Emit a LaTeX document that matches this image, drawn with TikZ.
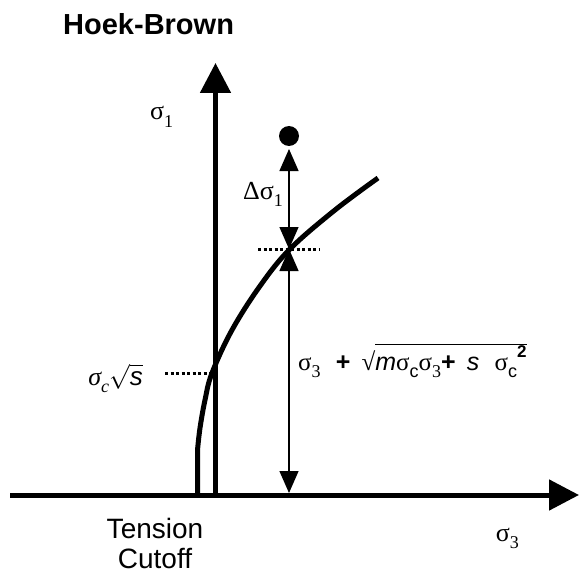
\documentclass[tikz,border=0pt]{standalone}
\usepackage{fontspec}
\setmainfont{Liberation Sans}
\newfontfamily\tms{Liberation Serif}
\usetikzlibrary{arrows.meta}
\newcommand{\lsub}[1]{\raisebox{-0.3em}{\fontsize{18}{18}\selectfont #1}}
\newcommand{\lsup}[1]{\raisebox{0.5em}{\fontsize{17}{17}\selectfont #1}}
\begin{document}
\begin{tikzpicture}[x=1pt,y=-1pt,
  axis/.style={line width=5pt,-{Triangle[length=30pt,width=30pt]}},
  curve/.style={line width=5pt},
  dimarrow/.style={line width=1.3pt,{Triangle[length=22pt,width=19pt]}-{Triangle[length=22pt,width=19pt]}},
  dots/.style={line width=3pt,dash pattern=on 3pt off 2.5pt},
  lbl/.style={inner sep=0pt,font=\fontsize{26}{30}\selectfont},
  frm/.style={inner sep=0pt,font=\fontsize{25}{30}\selectfont},
  big/.style={inner sep=0pt,font=\fontsize{28}{32}\selectfont}]
\useasboundingbox (0,0) rectangle (579,578);
% axes
\coordinate (xs) at (10,495);
\coordinate (xe) at (579,495);
\coordinate (ys) at (215.5,497);
\coordinate (ye) at (215.5,63);
\draw[axis] (xs) -- (xe);
\draw[axis] (ys) -- (ye);
% tension cutoff + curve
\coordinate (c0) at (197.5,495);
\coordinate (c1) at (197.5,450);
\draw[curve,line join=round] (c0) -- (c1) plot[smooth,tension=0.6] coordinates {(197.5,450) (200,428) (205,400) (212,373) (232,330) (260,286) (290,249) (335,210) (378,178)};
% dotted lines
\coordinate (d1a) at (165,373);
\coordinate (d1b) at (210,373);
\draw[dots] (d1a) -- (d1b);
\coordinate (d2a) at (258,249);
\coordinate (d2b) at (320,249);
\draw[dots] (d2a) -- (d2b);
% point
\fill (289,136) circle (10) coordinate (pt);
\coordinate (a1) at (289,149);
\coordinate (a2) at (289,249);
\coordinate (a3) at (289,493);
\draw[dimarrow] (a1) -- (a2);
\draw[dimarrow] (a2) -- (a3);
% labels
\node[anchor=base west,inner sep=0pt,font=\fontsize{29}{33}\selectfont\bfseries] (title) at (63,35) {Hoek-Brown};
\node[lbl,anchor=base west] (s1) at (150,120) {\tms σ\lsub{1}};
\node[lbl,anchor=base east] (ds1) at (283,199) {\tms Δσ\lsub{1}};
\node[lbl,anchor=base east] (scs) at (143,385) {\tms\itshape σ\lsub{c}\normalfont$\sqrt{\hbox{\itshape s}}$};
\node[frm,anchor=base west] (form) at (298,370) {{\tms σ\lsub{3}}\,\, \textbf{+}\, {\tms √}$\overline{\hbox{\itshape m\normalfont{\tms σ}\lsub{c}{\tms σ\lsub{3}}\textbf{+}\, \itshape s\,\, \normalfont{\tms σ}\lsub{c}\lsup{\textbf{2}}}}$};
\node[lbl,anchor=base east] (s3) at (519,541) {\tms σ\lsub{3}};
\node[big,anchor=base] (t1) at (155,538) {Tension};
\node[big,anchor=base] (t2) at (155,568) {Cutoff};
\end{tikzpicture}
\end{document}
